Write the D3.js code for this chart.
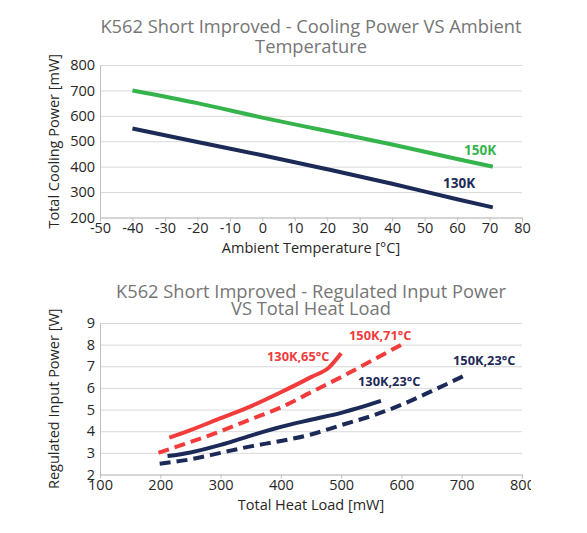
<!DOCTYPE html>
<html>
<head>
<meta charset="utf-8">
<script src="https://cdn.jsdelivr.net/npm/d3@7"></script>
<style>
  body { margin: 0; background: #fff; }
  text { font-family: "Open Sans", "Noto Sans", sans-serif; }
</style>
</head>
<body>
<div id="chart"></div>
<script>
// ---- top chart: cooling power vs ambient temperature ----
var ambientTemp = [-40, -20, 0, 20, 40, 60, 71];
var cooling150K = [700, 650, 593, 540, 487, 430, 400];
var cooling130K = [550, 497, 445, 390, 333, 272, 240];
var tempTicks = [-50, -40, -30, -20, -10, 0, 10, 20, 30, 40, 50, 60, 70, 80];
var coolTicks = [200, 300, 400, 500, 600, 700, 800];

// ---- bottom chart: regulated input power vs heat load ----
var load130K65 = [215, 250, 300, 350, 400, 450, 480, 500];
var power130K65 = [3.7, 4.05, 4.6, 5.15, 5.8, 6.5, 6.95, 7.6];
var load150K71 = [197, 250, 300, 350, 400, 450, 500, 550, 600];
var power150K71 = [3.0, 3.5, 4.0, 4.55, 5.1, 5.8, 6.5, 7.25, 8.0];
var load130K23 = [212, 250, 300, 350, 400, 450, 500, 566];
var power130K23 = [2.85, 3.02, 3.37, 3.8, 4.2, 4.53, 4.85, 5.4];
var load150K23 = [199, 250, 300, 350, 400, 450, 500, 550, 600, 650, 703];
var power150K23 = [2.5, 2.7, 3.0, 3.3, 3.55, 3.85, 4.28, 4.7, 5.22, 5.85, 6.55];
var loadTicks = [100, 200, 300, 400, 500, 600, 700, 800];
var powerTicks = [2, 3, 4, 5, 6, 7, 8, 9];

var green = "#35b44c", navy = "#1c2a58", red = "#f23b3b";

var svg = d3.select("#chart")
    .append("svg")
        .attr("width", 587)
        .attr("height", 533);

function pts(xs, ys){
    return xs.map(function(d, i){ return { x: d, y: ys[i] }; });
}

function plain(d){ return String(d); }   // keep "-50", not the unicode minus

function drawChart(config){
    var g = svg.append("g");
    if (config.clipRight) {
        svg.append("clipPath").attr("id", config.id + "-clip")
            .append("rect")
            .attr("x", 0).attr("y", config.top - 80)
            .attr("width", config.clipRight).attr("height", 300);
        g.attr("clip-path", "url(#" + config.id + "-clip)");
    }

    var x = d3.scaleLinear().domain(config.xDomain).range([config.left, config.right]);
    var y = d3.scaleLinear().domain(config.yDomain).range([config.bottom, config.top]);

    // grid
    g.append("g")
        .attr("transform", "translate(" + config.left + ",0)")
        .call(d3.axisLeft(y).tickValues(config.yTicks).tickSize(-(config.right - config.left)).tickFormat(""))
        .call(function(a){ a.select(".domain").remove(); })
        .selectAll("line").attr("stroke", "#d9d9d9").attr("stroke-width", 1);

    // y axis
    var yAx = g.append("g")
        .attr("transform", "translate(" + config.left + ",0)")
        .call(d3.axisLeft(y).tickValues(config.yTicks).tickFormat(plain).tickSize(0).tickPadding(5));
    yAx.select(".domain").attr("stroke", "#bfbfbf");
    yAx.selectAll("text")
        .attr("font-family", "Open Sans")
        .attr("font-size", "14.5px")
        .attr("fill", "#262626");

    // x axis
    var xAx = g.append("g")
        .attr("transform", "translate(0," + config.bottom + ")")
        .call(d3.axisBottom(x).tickValues(config.xTicks).tickFormat(plain).tickSize(4).tickSizeOuter(0));
    xAx.select(".domain").attr("stroke", "#bfbfbf");
    xAx.selectAll("line").attr("stroke", "#bfbfbf");
    xAx.selectAll("text")
        .attr("y", 15.5).attr("dy", 0)
        .attr("font-family", "Open Sans")
        .attr("font-size", "14.5px")
        .attr("fill", "#262626");

    // titles, two lines in one text element
    var cx = (config.left + config.right) / 2;
    var title = g.append("text")
        .attr("x", cx)
        .attr("y", config.titleY)
        .attr("text-anchor", "middle")
        .attr("font-size", "18.3px")
        .attr("fill", "#767676");
    config.title.forEach(function(t, i){
        title.append("tspan")
            .attr("x", cx)
            .attr("dy", i == 0 ? 0 : config.titleGap)
            .text(t);
    });

    g.append("text")
        .attr("transform", "translate(" + (config.left - 41) + "," + ((config.top + config.bottom) / 2) + ") rotate(-90)")
        .attr("text-anchor", "middle")
        .attr("font-size", "14.5px")
        .attr("fill", "#262626")
        .text(config.yLabel);

    g.append("text")
        .attr("x", cx)
        .attr("y", config.bottom + 35)
        .attr("text-anchor", "middle")
        .attr("font-size", "14.5px")
        .attr("fill", "#262626")
        .text(config.xLabel);

    var line = d3.line()
        .curve(d3.curveMonotoneX)
        .x(function(d){ return x(d.x); })
        .y(function(d){ return y(d.y); });

    config.series.forEach(function(s){
        g.append("path")
            .datum(s.data)
            .attr("d", line)
            .attr("fill", "none")
            .attr("stroke", s.color)
            .attr("stroke-width", 4)
            .attr("stroke-dasharray", s.dash ? "11,6" : null);

        g.append("text")
            .attr("x", s.lx)
            .attr("y", s.ly)
            .attr("font-size", s.size || "13.5px")
            .attr("font-weight", "bold")
            .attr("fill", s.color)
            .text(s.name);
    });
}

drawChart({
    id: "cool",
    left: 100, right: 522, top: 65, bottom: 217.5,
    xDomain: [-50, 80], yDomain: [200, 800],
    xTicks: tempTicks, yTicks: coolTicks,
    title: ["K562 Short Improved - Cooling Power VS Ambient", "Temperature"],
    titleY: 33.3, titleGap: 19.4,
    yLabel: "Total Cooling Power [mW]",
    xLabel: "Ambient Temperature [°C]",
    series: [
        { name: "150K", color: green, data: pts(ambientTemp, cooling150K), lx: 464, ly: 155 },
        { name: "130K", color: navy, data: pts(ambientTemp, cooling130K), lx: 443, ly: 187.5 }
    ]
});

drawChart({
    id: "power",
    left: 100, right: 522, top: 323, bottom: 474.5,
    xDomain: [100, 800], yDomain: [2, 9],
    xTicks: loadTicks, yTicks: powerTicks,
    clipRight: 531,
    title: ["K562 Short Improved - Regulated Input Power", "VS Total Heat Load"],
    titleY: 298, titleGap: 17,
    yLabel: "Regulated Input Power [W]",
    xLabel: "Total Heat Load [mW]",
    series: [
        { name: "130K,65°C", color: red, dash: false, data: pts(load130K65, power130K65), lx: 267, ly: 361, size: "12.8px" },
        { name: "150K,71°C", color: red, dash: true, data: pts(load150K71, power150K71), lx: 349, ly: 340, size: "12.8px" },
        { name: "130K,23°C", color: navy, dash: false, data: pts(load130K23, power130K23), lx: 358, ly: 386, size: "12.8px" },
        { name: "150K,23°C", color: navy, dash: true, data: pts(load150K23, power150K23), lx: 453, ly: 365, size: "12.8px" }
    ]
});
</script>
</body>
</html>
